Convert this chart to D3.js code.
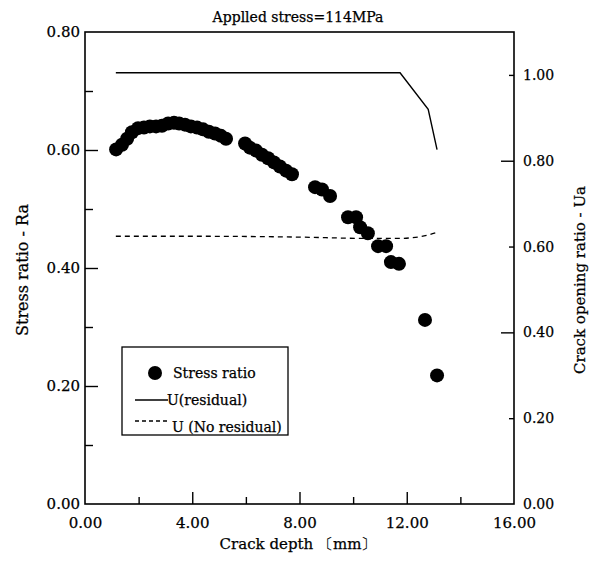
<!DOCTYPE html>
<html>
<head>
<meta charset="utf-8">
<script src="https://cdn.jsdelivr.net/npm/d3@7"></script>
<style>
  html, body { margin: 0; padding: 0; background: #fff; }
  svg { display: block; }
  text { font-family: "DejaVu Serif", "Liberation Serif", serif; fill: #000; stroke: #000; stroke-width: 0.25px; }
</style>
</head>
<body>
<svg id="chart" width="594" height="566"></svg>
<script>
// ---- data ----
const titleText = "Applled stress=114MPa";
const xLabel = "Crack depth \u3014mm\u3015";
const yLeftLabel = "Stress ratio - Ra";
const yRightLabel = "Crack opening ratio - Ua";

// Stress ratio points (crack depth mm, Ra)
const stressDepth = [1.16, 1.38, 1.57, 1.75, 1.98, 2.20, 2.42, 2.65, 2.87, 3.10, 3.32, 3.51, 3.73, 3.95, 4.18, 4.40, 4.62, 4.85, 5.07, 5.26,
                     5.97, 6.15, 6.38, 6.60, 6.83, 7.05, 7.27, 7.50, 7.72, 8.58, 8.84, 9.14, 9.81, 10.11, 10.26, 10.55, 10.93, 11.23, 11.41, 11.71, 12.68, 13.13];
const stressRatio = [0.601, 0.609, 0.619, 0.630, 0.637, 0.638, 0.640, 0.640, 0.641, 0.645, 0.646, 0.645, 0.643, 0.640, 0.638, 0.635, 0.631, 0.628, 0.624, 0.619,
                     0.611, 0.604, 0.599, 0.592, 0.586, 0.579, 0.572, 0.565, 0.559, 0.537, 0.533, 0.522, 0.486, 0.486, 0.469, 0.459, 0.437, 0.437, 0.410, 0.407, 0.312, 0.218];

// U (residual)
const uResDepth = [1.15, 11.75, 12.80, 13.13];
const uResValue = [1.005, 1.005, 0.920, 0.826];

// U (No residual)
const uNoResDepth = [1.15, 4.0, 8.0, 10.5, 11.7, 12.5, 13.13];
const uNoResValue = [0.624, 0.624, 0.622, 0.619, 0.619, 0.623, 0.633];

// ticks
const xTicks = [0, 2, 4, 6, 8, 10, 12, 14, 16];
const xTickLabels = ["0.00", "", "4.00", "", "8.00", "", "12.00", "", "16.00"];
const yLeftTicks = [0, 0.1, 0.2, 0.3, 0.4, 0.5, 0.6, 0.7, 0.8];
const yLeftTickLabels = ["0.00", "", "0.20", "", "0.40", "", "0.60", "", "0.80"];
const yRightTicks = [0, 0.2, 0.4, 0.6, 0.8, 1.0];
const yRightTickLabels = ["0.00", "0.20", "0.40", "0.60", "0.80", "1.00"];

const legendLabels = ["Stress ratio", "U(residual)", "U (No residual)"];

// ---- layout ----
const L = 85, R = 514, T = 32, B = 504;
const svg = d3.select("#chart");

const x = d3.scaleLinear().domain([0, 16]).range([L, R]);
const yL = d3.scaleLinear().domain([0, 0.8]).range([B, T]);
const yR = d3.scaleLinear().domain([0, 1.1]).range([B, T]);

// frame
svg.append("rect").attr("x", L).attr("y", T).attr("width", R - L).attr("height", B - T)
  .attr("fill", "none").attr("stroke", "#000").attr("stroke-width", 1.6);

// bottom axis
const gx = svg.append("g").attr("transform", `translate(0,${B})`)
  .call(d3.axisBottom(x).tickValues(xTicks).tickSizeOuter(0).tickSizeInner(-12)
    .tickFormat((d, i) => xTickLabels[i]));
gx.select(".domain").remove();
gx.selectAll(".tick line").attr("y2", (d, i) => xTickLabels[i] ? -12 : -7)
  .attr("stroke-width", 1.4).style("opacity", (d) => (d === 0 || d === 16) ? 0 : 1);
gx.selectAll(".tick text").attr("y", 13).attr("dy", "0.71em").style("font-size", "15px")
  .style("font-family", "DejaVu Serif");

// left axis
const gl = svg.append("g").attr("transform", `translate(${L},0)`)
  .call(d3.axisLeft(yL).tickValues(yLeftTicks).tickSizeOuter(0).tickSizeInner(-12).tickPadding(5)
    .tickFormat((d, i) => yLeftTickLabels[i]));
gl.select(".domain").remove();
gl.selectAll(".tick line").attr("x2", (d, i) => yLeftTickLabels[i] ? 13 : 8)
  .attr("stroke-width", 1.4).style("opacity", (d) => (d === 0 || d === 0.8) ? 0 : 1);
gl.selectAll(".tick text").attr("x", -5).style("font-size", "15px").style("font-family", "DejaVu Serif");

// right axis
const gr = svg.append("g").attr("transform", `translate(${R},0)`)
  .call(d3.axisRight(yR).tickValues(yRightTicks).tickSizeOuter(0).tickSizeInner(-12)
    .tickFormat((d, i) => yRightTickLabels[i]));
gr.select(".domain").remove();
gr.selectAll(".tick line").attr("x2", (d, i) => (i === 2 || i === 4) ? -13 : -5)
  .attr("stroke-width", 1.4).style("opacity", (d) => d === 0 ? 0 : 1);
gr.selectAll(".tick text").attr("x", 9).style("font-size", "14px").style("font-family", "DejaVu Serif");

// titles
svg.append("text").attr("x", 298).attr("y", 22).attr("text-anchor", "middle")
  .style("font-size", "14px").text(titleText);
svg.append("text").attr("x", 298).attr("y", 549).attr("text-anchor", "middle")
  .style("font-size", "15px").text(xLabel);
svg.append("text").attr("transform", "translate(28,270) rotate(-90)").attr("text-anchor", "middle")
  .style("font-size", "16px").text(yLeftLabel);
svg.append("text").attr("transform", "translate(585,280) rotate(-90)").attr("text-anchor", "middle")
  .style("font-size", "15px").text(yRightLabel);

// lines
const line = (ys) => d3.line().x(d => x(d[0])).y(d => ys(d[1]));
svg.append("path").datum(uResDepth.map((d, i) => [d, uResValue[i]]))
  .attr("d", line(yR)).attr("fill", "none").attr("stroke", "#000").attr("stroke-width", 1.4);
svg.append("path").datum(uNoResDepth.map((d, i) => [d, uNoResValue[i]]))
  .attr("d", d3.line().curve(d3.curveMonotoneX).x(d => x(d[0])).y(d => yR(d[1])))
  .attr("fill", "none").attr("stroke", "#000").attr("stroke-width", 1.3).attr("stroke-dasharray", "5,4");

// points
svg.append("g").selectAll("circle")
  .data(stressDepth.map((d, i) => [d, stressRatio[i]]))
  .join("circle")
  .attr("cx", d => x(d[0])).attr("cy", d => yL(d[1])).attr("r", 7).attr("fill", "#000");

// legend
const lg = svg.append("g");
lg.append("rect").attr("x", 122).attr("y", 347).attr("width", 166).attr("height", 88)
  .attr("fill", "#fff").attr("stroke", "#000").attr("stroke-width", 1.3);
lg.append("circle").attr("cx", 155).attr("cy", 373).attr("r", 7).attr("fill", "#000");
lg.append("text").attr("x", 173).attr("y", 378).style("font-size", "14px").text(legendLabels[0]);
lg.append("line").attr("x1", 135).attr("x2", 168).attr("y1", 400).attr("y2", 400)
  .attr("stroke", "#000").attr("stroke-width", 1.4);
lg.append("text").attr("x", 167).attr("y", 405).style("font-size", "14px").text(legendLabels[1]);
lg.append("line").attr("x1", 135).attr("x2", 168).attr("y1", 421).attr("y2", 421)
  .attr("stroke", "#000").attr("stroke-width", 1.3).attr("stroke-dasharray", "4,3");
lg.append("text").attr("x", 172).attr("y", 432).style("font-size", "14px").text(legendLabels[2]);
</script>
</body>
</html>
